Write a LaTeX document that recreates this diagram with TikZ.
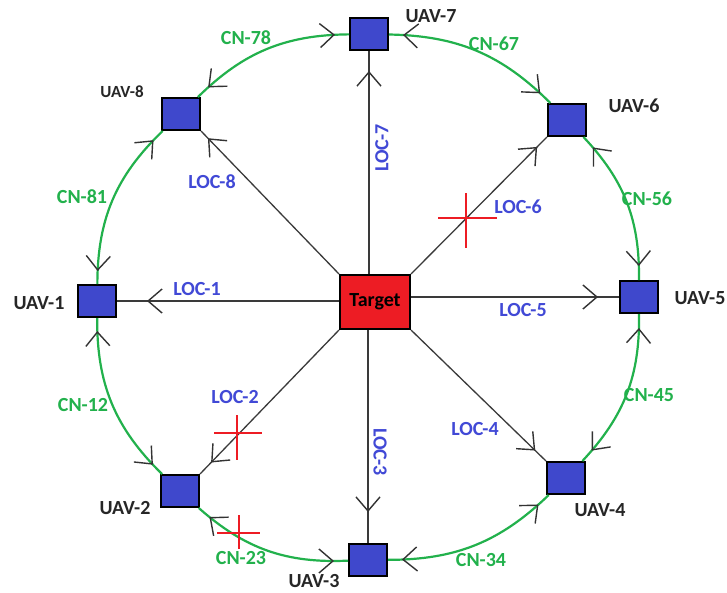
\documentclass[tikz,border=0pt]{standalone}
\usepackage{fontspec}
\setmainfont{Carlito}
\usetikzlibrary{arrows.meta,decorations.markings}
\definecolor{cngreen}{HTML}{22B14C}
\definecolor{uavblue}{HTML}{3F48CC}
\definecolor{locblue}{HTML}{4149D6}
\definecolor{tgtred}{HTML}{ED1C24}
\definecolor{locgray}{HTML}{3A3A3A}
\newcommand{\barbtip}{Straight Barb[length=14pt,width=24pt,line width=1.4pt,color=black!80]}
\tikzset{
  uav/.style={draw=black, line width=2pt, fill=uavblue, minimum width=38pt, minimum height=32pt, inner sep=0pt},
  tgt/.style={draw=black, line width=2pt, fill=tgtred, minimum width=70pt, minimum height=54pt, inner sep=0pt, font=\bfseries\fontsize{20}{22}\selectfont},
  lbl/.style={inner sep=0pt, font=\bfseries\fontsize{20}{22}\selectfont},
  uavlbl/.style={lbl, text=black!85},
  cnlbl/.style={lbl, text=cngreen},
  loclbl/.style={lbl, text=locblue},
  locline/.style={draw=locgray, line width=1.3pt, postaction={decorate},
    decoration={markings, mark=at position -#1 with {\arrow{\barbtip}}}},
  cnline/.style={draw=cngreen, line width=2.2pt, postaction={decorate},
    decoration={markings, mark=at position #1 with {\arrowreversed{\barbtip}},
      mark=at position -#1 with {\arrow{\barbtip}}}},
  redcross/.style={draw=tgtred, line width=2pt}
}
\begin{document}
\begin{tikzpicture}[x=1pt,y=-1pt]
\useasboundingbox[fill=white] (0,0) rectangle (727,592);
% nodes
\node[tgt] (target) at (375,302) {Target};
\node[uav] (uav1) at (97,301) {};
\node[uav] (uav2) at (180,491) {};
\node[uav] (uav3) at (368,560) {};
\node[uav] (uav4) at (566,478) {};
\node[uav] (uav5) at (639,297) {};
\node[uav] (uav6) at (567,120) {};
\node[uav] (uav7) at (369,34) {};
\node[uav] (uav8) at (181,114) {};
% LOC connectors
\draw[locline=30pt] (uav1.east -| target.west) -- (uav1.east);
\draw[locline=16pt] (target.south west) -- (uav2.north east);
\draw[locline=31pt] (target.south -| uav3.north) -- (uav3.north);
\draw[locline=15pt] (target.south east) -- (uav4.north west);
\draw[locline=21pt] (uav5.west -| target.east) -- (uav5.west);
\draw[locline=14pt] (target.north east) -- (uav6.south west);
\draw[locline=20pt] (target.north -| uav7.south) -- (uav7.south);
\draw[locline=10pt] (target.north west) -- (uav8.south east);
% CN connectors
\draw[cnline=13pt] (uav1) to[bend left=23] (uav8);
\draw[cnline=14pt] (uav8) to[bend left=22] (uav7);
\draw[cnline=14pt] (uav7) to[bend left=22] (uav6);
\draw[cnline=14pt] (uav6) to[bend left=22] (uav5);
\draw[cnline=14pt] (uav5) to[bend left=22] (uav4);
\draw[cnline=14pt] (uav4) to[bend left=22] (uav3);
\draw[cnline=14pt] (uav3) to[bend left=22] (uav2);
\draw[cnline=13pt] (uav2) to[bend left=23] (uav1);
% red crosses
\draw[redcross] (438,218) -- (497,218) (466,193) -- (466,248);
\draw[redcross] (214,433) -- (262,433) (237,415) -- (237,460);
\draw[redcross] (217,533) -- (260,533) (239,515) -- (239,549);
% UAV labels
\node[uavlbl] (l1) at (39,303) {UAV-1};
\node[uavlbl] (l2) at (125,508) {UAV-2};
\node[uavlbl] (l3) at (314,581) {UAV-3};
\node[uavlbl] (l4) at (600,510) {UAV-4};
\node[uavlbl] (l5) at (700,298) {UAV-5};
\node[uavlbl] (l6) at (634,106) {UAV-6};
\node[uavlbl] (l7) at (431,16) {UAV-7};
\node[uavlbl, font=\bfseries\fontsize{17}{19}\selectfont] (l8) at (122,92) {UAV-8};
% CN labels
\node[cnlbl] (c78) at (246,38) {CN-78};
\node[cnlbl] (c67) at (494,44) {CN-67};
\node[cnlbl] (c56) at (647,199) {CN-56};
\node[cnlbl] (c45) at (649,395) {CN-45};
\node[cnlbl] (c34) at (481,560) {CN-34};
\node[cnlbl] (c23) at (241,558) {CN-23};
\node[cnlbl] (c12) at (83,405) {CN-12};
\node[cnlbl] (c81) at (82,197) {CN-81};
% LOC labels
\node[loclbl] (o1) at (197,289) {LOC-1};
\node[loclbl] (o2) at (235,397) {LOC-2};
\node[loclbl, rotate=-90] (o3) at (380,452) {LOC-3};
\node[loclbl] (o4) at (475,429) {LOC-4};
\node[loclbl] (o5) at (523,310) {LOC-5};
\node[loclbl] (o6) at (518,207) {LOC-6};
\node[loclbl, rotate=90] (o7) at (382,148) {LOC-7};
\node[loclbl] (o8) at (212,182) {LOC-8};
\end{tikzpicture}
\end{document}
